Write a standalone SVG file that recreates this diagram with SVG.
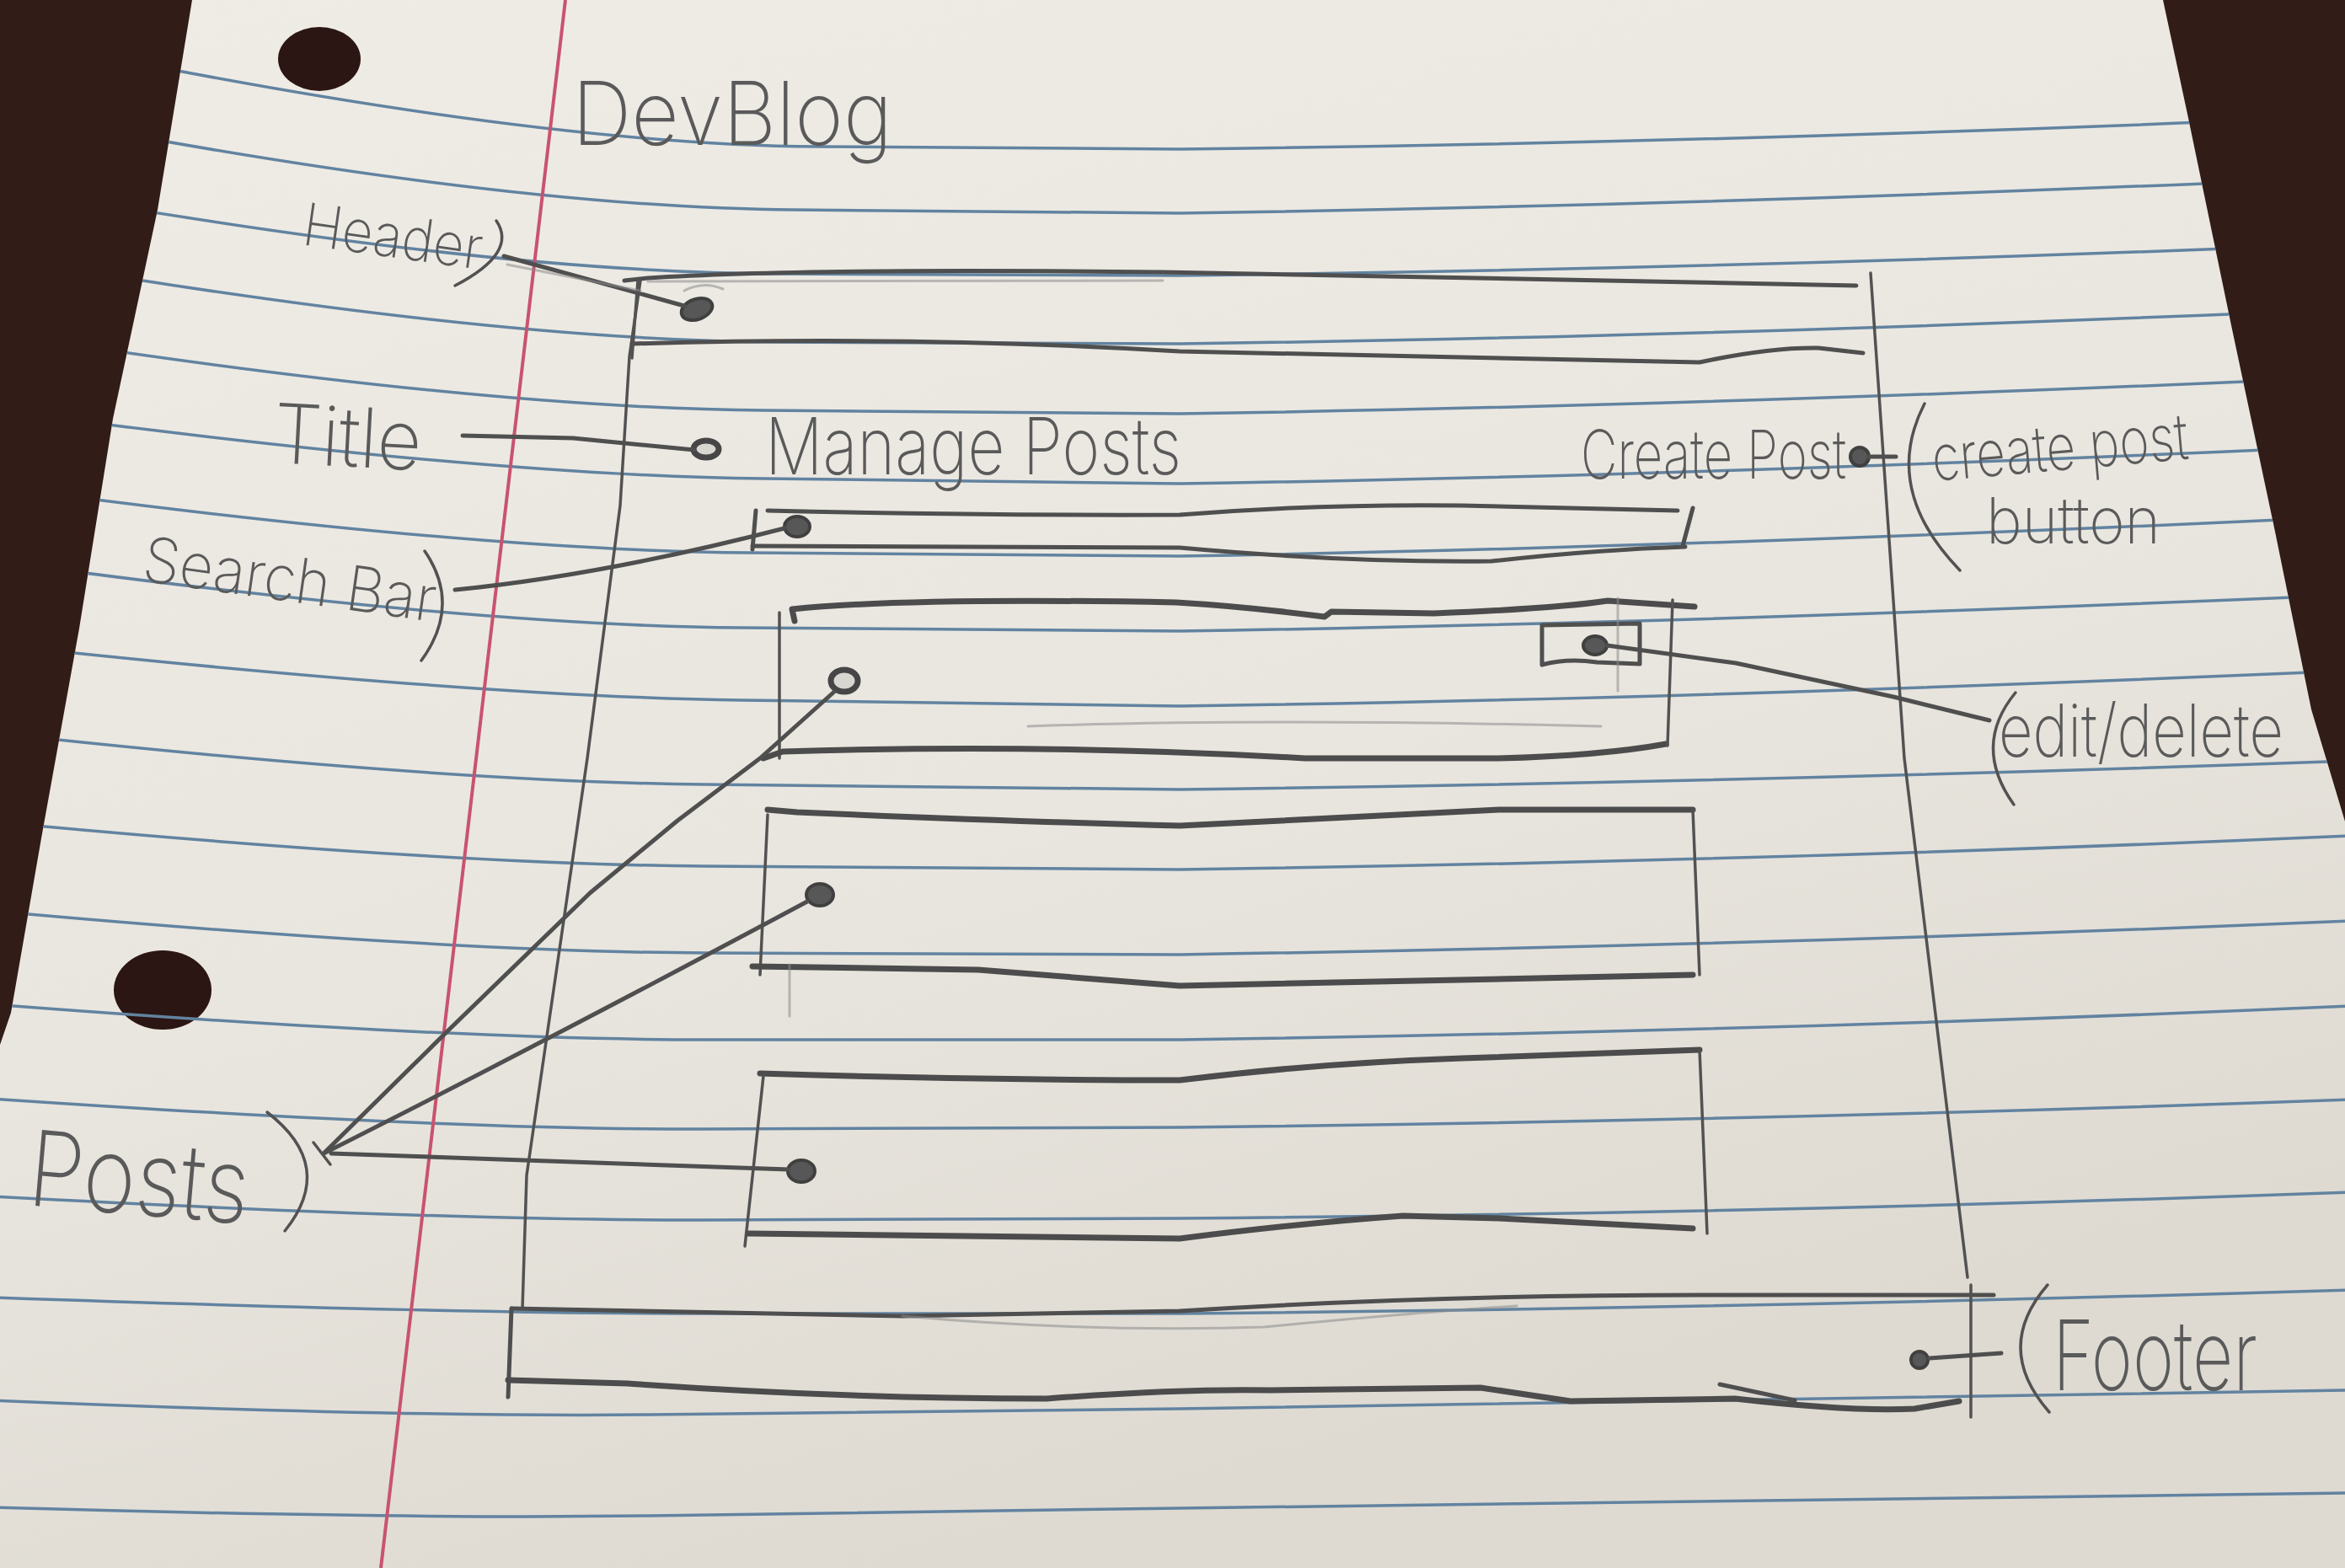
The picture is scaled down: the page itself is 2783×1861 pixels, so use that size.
<svg xmlns="http://www.w3.org/2000/svg" width="2783" height="1861" viewBox="0 0 2783 1861">
  <defs>
    <style>
      .rule { fill: none; stroke: #6283a0; stroke-width: 3.5; stroke-linecap: round; }
      .margin { fill: none; stroke: #c8536f; stroke-width: 4; }
      .pen { fill: none; stroke: #4f4f4f; stroke-width: 5; stroke-linecap: round; stroke-linejoin: round; }
      .bold { fill: none; stroke: #4c4c4c; stroke-width: 7; stroke-linecap: round; stroke-linejoin: round; }
      .thin { fill: none; stroke: #525252; stroke-width: 3.5; stroke-linecap: round; stroke-linejoin: round; }
      .faint { fill: none; stroke: #8a8a8a; stroke-width: 3; stroke-linecap: round; opacity: 0.55; }
      .dot { fill: #575757; stroke: #404040; stroke-width: 4; }
      .ring { fill: #d8d6d0; stroke: #464646; stroke-width: 7; }
      .hand { font-family: Inter, "Open Sans", "Liberation Sans", sans-serif; font-weight: 250; fill: #5a5a5a; }
    </style>
    <linearGradient id="paperShade" x1="0" y1="0" x2="0.4" y2="1">
      <stop offset="0" stop-color="#efece6"/>
      <stop offset="0.6" stop-color="#e9e6df"/>
      <stop offset="1" stop-color="#dedad2"/>
    </linearGradient>
    <clipPath id="sheet">
      <path d="M228,0 L2567,0 L2597,140 L2648,386 L2700,631 L2743,842 L2783,975 L2783,1861 L0,1861 L0,1240 L13,1202 L49,995 L94,746 L134,497 L187,249 Z"/>
    </clipPath>
  </defs>

  <!-- desk and sheet -->
  <g id="paper">
    <rect x="0" y="0" width="2783" height="1861" fill="#311c18"/>
    <path d="M228,0 L2567,0 L2597,140 L2648,386 L2700,631 L2743,842 L2783,975 L2783,1861 L0,1861 L0,1240 L13,1202 L49,995 L94,746 L134,497 L187,249 Z" fill="url(#paperShade)"/>
    <ellipse cx="379" cy="70" rx="49" ry="38" fill="#2b1613"/>
    <ellipse cx="193" cy="1175" rx="58" ry="47" fill="#2b1613"/>
  </g>

  <!-- ruled lines and margin -->
  <g id="ruling" clip-path="url(#sheet)">
    <path class="rule" d="M190,80 Q670,172 970,174 L1400,177 Q2000,170 2640,144"/>
    <path class="rule" d="M180,165 Q643,247 943,249 L1400,253 Q2000,244 2660,216"/>
    <path class="rule" d="M170,250 Q625,324 925,325 L1400,327 Q2000,320 2670,294"/>
    <path class="rule" d="M150,330 Q625,405 925,406 L1400,408 Q2000,400 2690,371"/>
    <path class="rule" d="M125,415 Q607,485 907,487 L1400,491 Q2000,482 2710,451"/>
    <path class="rule" d="M105,501 Q607,565 907,568 L1400,574 Q2000,565 2730,532"/>
    <path class="rule" d="M90,590 Q589,654 889,656 L1400,660 Q2000,650 2750,615"/>
    <path class="rule" d="M70,676 Q580,743 880,745 L1400,749 Q2000,740 2790,706"/>
    <path class="rule" d="M50,771 Q580,827 880,831 L1400,838 Q2000,830 2790,796"/>
    <path class="rule" d="M30,874 Q536,928 836,931 L1400,937 Q2100,928 2790,903"/>
    <path class="rule" d="M10,977 Q536,1026 836,1028 L1400,1032 Q2100,1022 2790,992"/>
    <path class="rule" d="M-10,1081 Q536,1130 836,1131 L1400,1133 Q2100,1122 2790,1093"/>
    <path class="rule" d="M-10,1192 Q536,1234 836,1234 L1400,1234 Q2100,1224 2790,1194"/>
    <path class="rule" d="M-10,1304 Q536,1341 836,1340 L1400,1338 Q2100,1330 2790,1305"/>
    <path class="rule" d="M-10,1420 Q536,1449 836,1448 L1400,1446 Q2100,1440 2790,1415"/>
    <path class="rule" d="M-10,1540 Q536,1559 836,1559 L1400,1559 Q2100,1552 2790,1531"/>
    <path class="rule" d="M-10,1662 Q470,1682 770,1679 L1400,1672 Q2100,1662 2790,1650"/>
    <path class="rule" d="M-10,1789 Q470,1803 770,1799 L1400,1790 Q2100,1780 2790,1772"/>
    <path class="margin" d="M671,0 L452,1861"/>
  </g>

  <!-- page title -->
  <g id="page-title">
    <text class="hand" x="679" y="172" font-size="104" textLength="380" lengthAdjust="spacingAndGlyphs">DevBlog</text>
  </g>

  <!-- page frame -->
  <g id="frame">
    <path class="thin" d="M760,333 L747,423 L736,600 L697,900 L625,1395 L620,1553"/>
    <path class="thin" d="M2220,324 L2260,900 L2335,1516"/>
  </g>

  <!-- header bar -->
  <g id="header">
    <path class="pen" d="M741,333 L769,330 Q948,318 1380,323 L1753,330 L2203,339"/>
    <path class="faint" d="M769,334 L1380,333"/>
    <path class="pen" d="M750,408 Q1082,398 1400,417 L2017,430 Q2100,412 2158,413 L2211,419"/>
    <path class="thin" d="M757,333 L750,425"/>
    <ellipse class="dot" cx="827" cy="367" rx="19" ry="12" transform="rotate(-20 827 367)"/>
    <path class="faint" d="M812,345 Q835,333 858,343"/>
  </g>

  <!-- page heading -->
  <g id="heading">
    <text class="hand" x="908" y="563" font-size="94" textLength="494" lengthAdjust="spacingAndGlyphs">Manage Posts</text>
    <ellipse class="ring" cx="838" cy="533" rx="15" ry="10" stroke-width="6"/>
  </g>

  <!-- create post button -->
  <g id="create-post">
    <text class="hand" x="1876" y="568" font-size="80" textLength="315" lengthAdjust="spacingAndGlyphs">Create Post</text>
    <circle class="dot" cx="2207" cy="542" r="11"/>
  </g>

  <!-- search bar -->
  <g id="search-bar">
    <path class="pen" d="M911,606 Q1150,612 1400,611 Q1560,598 1735,600 L1991,606"/>
    <path class="pen" d="M897,606 L893,652"/>
    <path class="pen" d="M893,648 L1400,650 Q1600,668 1770,666 Q1900,652 2000,649"/>
    <path class="pen" d="M2009,603 L1997,648"/>
    <ellipse class="dot" cx="946" cy="625" rx="15" ry="12"/>
  </g>

  <!-- post card 1 with edit/delete control -->
  <g id="post-1">
    <path class="bold" d="M943,737 L940,723 Q1074,709 1396,715 Q1480,720 1572,732 L1580,726 L1702,728 Q1850,722 1908,713 L2011,720"/>
    <path class="thin" d="M925,727 L925,900"/>
    <path class="bold" d="M906,900 L929,892 Q1243,882 1549,900 L1778,900 Q1900,897 1977,883"/>
    <path class="thin" d="M1985,712 L1979,885"/>
    <path class="pen" d="M1830,742 L1946,740 L1946,788 L1895,786 Q1860,781 1830,789 Z"/>
    <path class="faint" d="M1920,710 L1920,820"/>
    <path class="faint" d="M1220,862 Q1500,852 1900,862"/>
    <ellipse class="dot" cx="1893" cy="766" rx="14" ry="11"/>
    <ellipse class="ring" cx="1002" cy="808" rx="16" ry="13"/>
  </g>

  <!-- post card 2 -->
  <g id="post-2">
    <path class="bold" d="M911,961 L946,964 Q1200,975 1400,980 Q1600,970 1779,961 L2009,961"/>
    <path class="thin" d="M911,967 L902,1157"/>
    <path class="bold" d="M893,1147 L1161,1151 Q1300,1162 1400,1170 L2009,1157"/>
    <path class="thin" d="M2009,961 L2017,1157"/>
    <path class="faint" d="M937,1145 L937,1206"/>
    <ellipse class="dot" cx="973" cy="1062" rx="16" ry="13"/>
  </g>

  <!-- post card 3 -->
  <g id="post-3">
    <path class="bold" d="M902,1274 Q1150,1282 1400,1282 Q1560,1262 1735,1256 L2017,1246"/>
    <path class="thin" d="M906,1277 L884,1479"/>
    <path class="bold" d="M888,1464 Q1150,1468 1400,1470 Q1540,1452 1665,1443 L1779,1446 L2009,1458"/>
    <path class="thin" d="M2017,1246 L2026,1464"/>
    <ellipse class="dot" cx="951" cy="1390" rx="16" ry="13"/>
  </g>

  <!-- footer bar -->
  <g id="footer">
    <path class="pen" d="M607,1553 L1071,1562 L1400,1556 Q1700,1537 2017,1537 L2366,1537"/>
    <path class="faint" d="M1071,1562 Q1300,1582 1500,1575 Q1700,1556 1800,1550"/>
    <path class="pen" d="M607,1553 L603,1658"/>
    <path class="bold" d="M603,1638 L745,1642 Q1000,1660 1242,1660 Q1400,1648 1509,1650 L1757,1647 L1864,1663 L2059,1660 Q2200,1676 2272,1672 L2325,1663"/>
    <path class="pen" d="M2041,1643 L2130,1662"/>
    <path class="thin" d="M2339,1525 L2339,1682"/>
    <circle class="dot" cx="2278" cy="1614" r="10"/>
  </g>

  <!-- annotation labels -->
  <g id="labels">
    <text class="hand" x="357" y="290" font-size="70" textLength="214" lengthAdjust="spacingAndGlyphs" transform="rotate(8 357 290)">Header</text>
    <text class="hand" x="323" y="549" font-size="98" textLength="176" lengthAdjust="spacingAndGlyphs" transform="rotate(3 323 549)">Title</text>
    <text class="hand" x="167" y="689" font-size="74" textLength="350" lengthAdjust="spacingAndGlyphs" transform="rotate(8 167 689)">Search Bar</text>
    <text class="hand" x="31" y="1430" font-size="124" textLength="262" lengthAdjust="spacingAndGlyphs" transform="rotate(5 31 1430)">Posts</text>
    <text class="hand" x="2295" y="571" font-size="76" textLength="305" lengthAdjust="spacingAndGlyphs" transform="rotate(-5 2295 571)">create post</text>
    <text class="hand" x="2357" y="645" font-size="76" textLength="207" lengthAdjust="spacingAndGlyphs">button</text>
    <text class="hand" x="2372" y="898" font-size="86" textLength="338" lengthAdjust="spacingAndGlyphs">edit/delete</text>
    <text class="hand" x="2436" y="1650" font-size="116" textLength="243" lengthAdjust="spacingAndGlyphs">Footer</text>
  </g>

  <!-- leader lines and brackets -->
  <g id="connectors">
    <path class="thin" d="M589,262 Q615,300 540,339"/>
    <path class="pen" d="M598,304 L812,363"/>
    <path class="faint" d="M602,314 L760,345"/>
    <path class="pen" d="M549,517 L680,520 L824,534"/>
    <path class="thin" d="M504,654 Q548,718 500,784"/>
    <path class="pen" d="M540,700 Q714,683 931,627"/>
    <path class="pen" d="M2218,542 L2250,542"/>
    <path class="thin" d="M2284,479 Q2232,580 2326,677"/>
    <path class="pen" d="M1907,766 L2060,787 L2247,827 L2361,855"/>
    <path class="thin" d="M2392,822 Q2340,885 2390,955"/>
    <path class="thin" d="M317,1320 Q400,1384 338,1461"/>
    <path class="pen" d="M384,1369 L536,1219 L700,1060 L804,974 L902,900 L990,821"/>
    <path class="pen" d="M384,1369 Q640,1240 958,1070"/>
    <path class="pen" d="M393,1369 L936,1388"/>
    <path class="thin" d="M372,1356 L392,1382"/>
    <path class="pen" d="M2290,1612 L2375,1606"/>
    <path class="thin" d="M2430,1525 Q2365,1600 2432,1676"/>
  </g>
</svg>
